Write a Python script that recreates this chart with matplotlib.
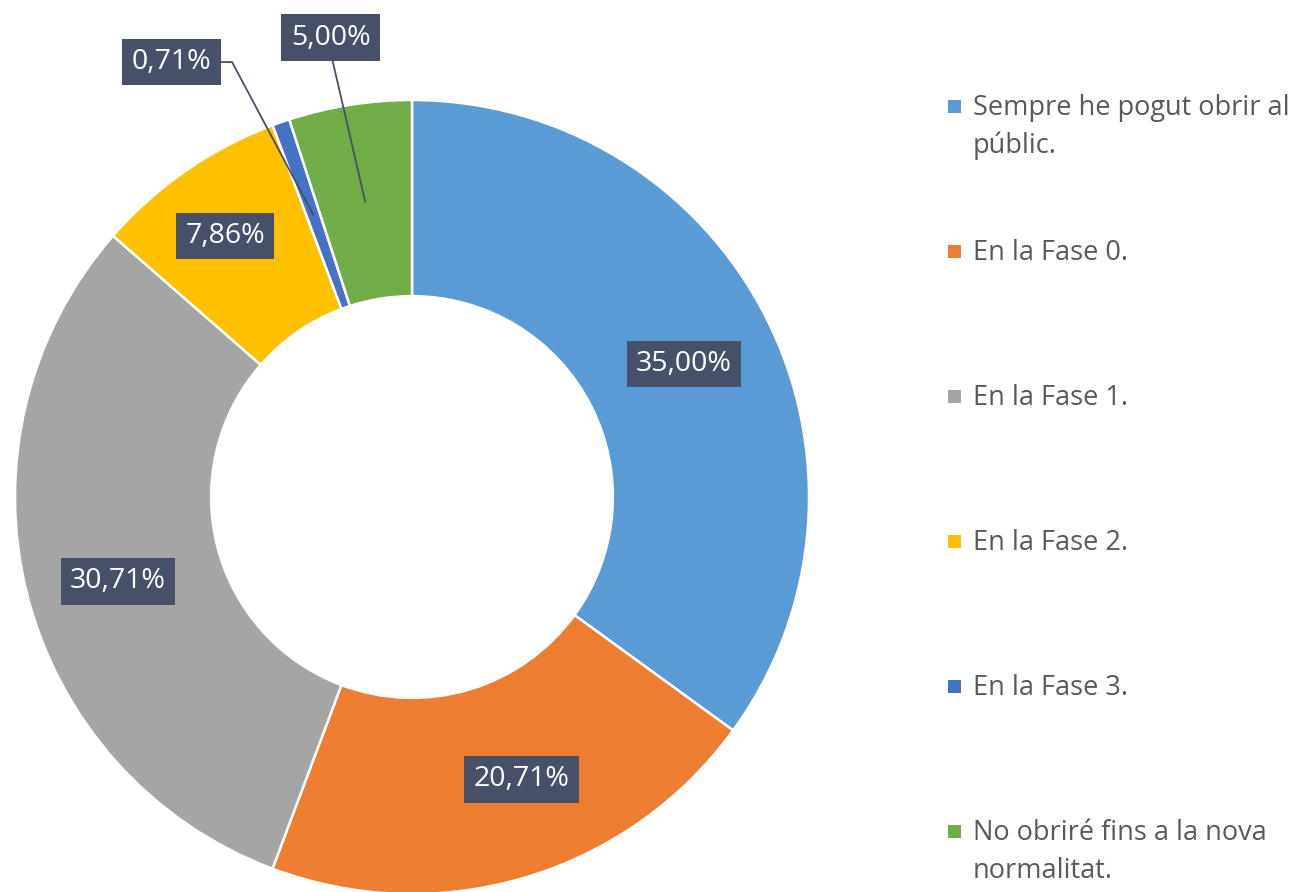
import numpy as np
import matplotlib.pyplot as plt
from matplotlib.patches import Rectangle

# dades
etiquetes = ["Sempre he pogut obrir al\npúblic.", "En la Fase 0.", "En la Fase 1.",
             "En la Fase 2.", "En la Fase 3.", "No obriré fins a la nova\nnormalitat."]
valors = [35.00, 20.71, 30.71, 7.86, 0.71, 5.00]
textos = ["35,00%", "20,71%", "30,71%", "7,86%", "0,71%", "5,00%"]
colors = ["#5B9BD5", "#ED7D31", "#A5A5A5", "#FFC000", "#4472C4", "#70AD47"]

# desplaçaments de les etiquetes (punts) respecte al centre de l'anell
despl = [(4, -2), (17, 3), (-3, -8), (-12, 11), (-102, 110), (-25, 118)]

plt.rcParams['font.family'] = ['Open Sans', 'DejaVu Sans']

W, H = 1299, 892
fig = plt.figure(figsize=(W / 100, H / 100), dpi=100)
cx, cy, R = 412, 497, 397
ax = fig.add_axes([(cx - R) / W, (H - cy - R) / H, 2 * R / W, 2 * R / H])

r_int = 0.506
wedges, _ = ax.pie(valors, colors=colors, startangle=90, counterclock=False,
                   radius=1, wedgeprops=dict(width=1 - r_int, edgecolor='white', linewidth=1.8))
ax.set_xlim(-1, 1)
ax.set_ylim(-1, 1)
ax.set_aspect('equal')
ax.axis('off')

r_mig = (1 + r_int) / 2
caixa = dict(boxstyle='square,pad=0.33', fc='#465069', ec='none')
for i, w in enumerate(wedges):
    ang = np.deg2rad((w.theta1 + w.theta2) / 2)
    x, y = r_mig * np.cos(ang), r_mig * np.sin(ang)
    if i == 4:
        props = dict(arrowstyle='-', color='#465069', lw=1.3, shrinkA=0, shrinkB=0,
                     relpos=(1, 0.5), connectionstyle='angle,angleA=0,angleB=118,rad=0')
    elif i == 5:
        props = dict(arrowstyle='-', color='#465069', lw=1.3, shrinkA=0, shrinkB=0,
                     relpos=(0.5, 0))
    else:
        props = None
    ax.annotate(textos[i], xy=(x, y), xytext=despl[i], textcoords='offset points',
                ha='center', va='center', fontsize=20.5, color='white', bbox=caixa,
                arrowprops=props, annotation_clip=False)

# llegenda
for i, (lab, col) in enumerate(zip(etiquetes, colors)):
    yc = 106 + 145 * i
    fig.patches.append(Rectangle((948 / W, (H - yc - 6.5) / H), 13 / W, 13 / H,
                                 transform=fig.transFigure, fc=col, ec='none'))
    for j, linia in enumerate(lab.split('\n')):
        fig.text(973 / W, (H - yc - 9 - 37.5 * j) / H, linia, ha='left', va='baseline',
                 fontsize=19.5, color='#595959', transform=fig.transFigure)

plt.savefig("out.png", dpi=100)
